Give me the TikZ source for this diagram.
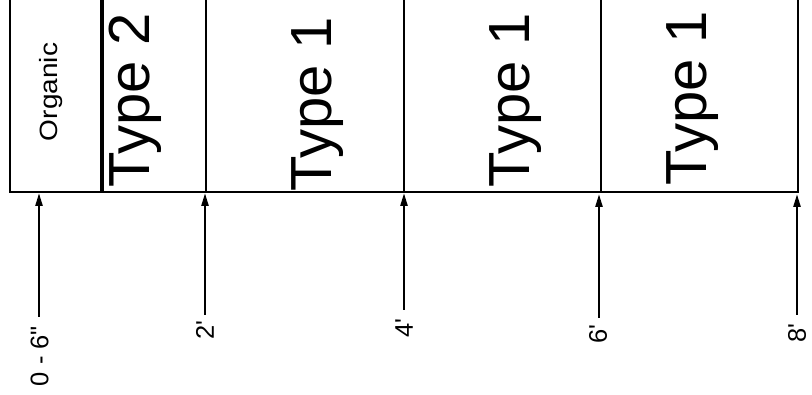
\documentclass[tikz,border=0pt]{standalone}
\usepackage{fontspec}
\newfontfamily\lab{Liberation Sans}
\usetikzlibrary{arrows.meta}
\tikzset{
  boxline/.style={line width=2.7pt},
  bigtext/.style={rotate=90, anchor=base, inner sep=0pt, font=\lab\fontsize{58}{58}\selectfont},
  smalltext/.style={rotate=90, anchor=base, inner sep=0pt, xscale=1.12, font=\lab\fontsize{25}{25}\selectfont},
  depthlab/.style={rotate=90, inner sep=0pt, font=\lab\fontsize{25.5}{25.5}\selectfont},
  marker/.style={line width=2.4pt, -{Triangle[length=13pt,width=7pt]}}
}
\begin{document}
\begin{tikzpicture}[x=1pt,y=-1pt]
\useasboundingbox (0,0) rectangle (812,395);
% layer boxes (open at the top)
\draw[boxline] (10,-2) -- (10,192) -- (798,192) -- (798,-2);
\draw[boxline] (101,-2) -- (101,192);
\draw[boxline] (103,-2) -- (103,192);
\draw[boxline] (206,-2) -- (206,192);
\draw[boxline] (404,-2) -- (404,192);
\draw[boxline] (601,-2) -- (601,192);
% layer names
\node[smalltext] (org) at (57,92) {Organic};
\node[bigtext] (t2) at (149,100) {Type 2};
\node[bigtext] (t1a) at (331,104) {Type 1};
\node[bigtext] (t1b) at (529,100) {Type 1};
\node[bigtext] (t1c) at (706,98) {Type 1};
% depth labels
\node[depthlab] (d0) at (39.5,356) {0 - 6"};
\node[depthlab] (d2) at (205,330) {2'};
\node[depthlab] (d4) at (404,328) {4'};
\node[depthlab] (d6) at (598,334) {6'};
\node[depthlab] (d8) at (797,333) {8'};
% arrow ends
\coordinate (s0) at (39,317);  \coordinate (e0) at (39,193);
\coordinate (s2) at (205,315); \coordinate (e2) at (205,193);
\coordinate (s4) at (404,310); \coordinate (e4) at (404,193);
\coordinate (s6) at (599,318); \coordinate (e6) at (599,194);
\coordinate (s8) at (797,315); \coordinate (e8) at (797,194);
\draw[marker] (s0) -- (e0);
\draw[marker] (s2) -- (e2);
\draw[marker] (s4) -- (e4);
\draw[marker] (s6) -- (e6);
\draw[marker] (s8) -- (e8);
\end{tikzpicture}
\end{document}
